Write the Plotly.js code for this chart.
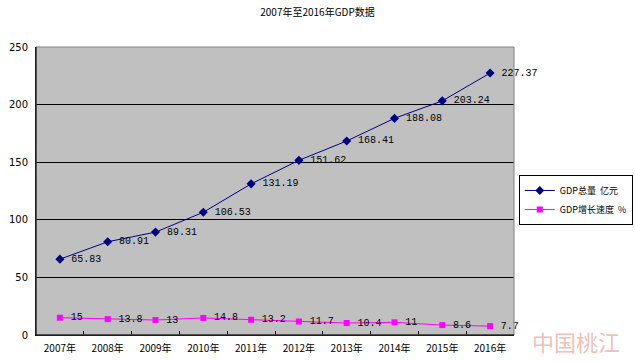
<!DOCTYPE html>
<html><head><meta charset="utf-8">
<script src="https://cdn.plot.ly/plotly-3.0.1.min.js"></script>
<style>body{margin:0;background:#fff}#c{width:635px;height:363px}</style>
</head><body><div id="c"></div>
<script>
const years = ["2007年","2008年","2009年","2010年","2011年","2012年","2013年","2014年","2015年","2016年"];
const gdp = [65.83, 80.91, 89.31, 106.53, 131.19, 151.62, 168.41, 188.08, 203.24, 227.37];
const growth = [15, 13.8, 13, 14.8, 13.2, 11.7, 10.4, 11, 8.6, 7.7];
const yTicks = [0, 50, 100, 150, 200, 250];
const F = '"Noto Sans CJK SC", "DejaVu Sans", sans-serif';
const M = '"Liberation Mono", "DejaVu Sans Mono", monospace';

const traces = [
  {x: years, y: gdp, name: 'GDP总量  亿元', type: 'scatter', mode: 'lines+markers+text',
   line: {color: '#000080', width: 1}, marker: {symbol: 'diamond', size: 7, color: '#000080'},
   text: gdp.map(v => ' ' + v.toFixed(2)), textposition: 'middle right',
   textfont: {family: M, size: 10, color: '#000000'}, cliponaxis: false},
  {x: years, y: growth, name: 'GDP增长速度  %', type: 'scatter', mode: 'lines+markers+text',
   line: {color: '#FF00FF', width: 1}, marker: {symbol: 'square', size: 6, color: '#FF00FF'},
   text: growth.map(v => ' ' + String(v)), textposition: 'middle right',
   textfont: {family: M, size: 10, color: '#000000'}, cliponaxis: false}
];

const layout = {
  width: 635, height: 363,
  margin: {l: 36, r: 121, t: 47, b: 28},
  paper_bgcolor: '#ffffff', plot_bgcolor: '#C0C0C0',
  font: {family: F, size: 10, color: '#000'},
  title: {text: '2007年至2016年GDP数据', font: {family: F, size: 10, color: '#000'}, x: 0.5, xanchor: 'center', y: 0.965, yanchor: 'middle'},
  xaxis: {type: 'category', categoryarray: years, range: [-0.5, 9.5], showgrid: false,
    showline: true, linecolor: '#000', linewidth: 1, mirror: false,
    ticks: 'inside', tickson: 'boundaries', ticklen: 4, tickcolor: '#000', tickwidth: 1,
    ticklabelstandoff: 4,
    tickfont: {family: F, size: 10, color: '#000'}, fixedrange: true},
  yaxis: {range: [0, 250], tickvals: yTicks, showgrid: true, gridcolor: '#000', gridwidth: 1,
    showline: true, linecolor: '#000', linewidth: 1, zeroline: false,
    ticks: '', ticklabelstandoff: 5, tickfont: {family: 'DejaVu Sans, sans-serif', size: 10, color: '#000'}, fixedrange: true},
  legend: {xref: 'container', yref: 'container', x: 0.817, xanchor: 'left', y: 0.518, yanchor: 'top',
    bgcolor: '#fff', bordercolor: '#000', borderwidth: 1,
    font: {family: F, size: 9, color: '#000'}, tracegroupgap: 0, itemwidth: 30},
  shapes: [
    {type: 'rect', xref: 'paper', yref: 'paper', x0: 0, x1: 1, y0: 0, y1: 1, line: {color: '#808080', width: 1}, fillcolor: 'rgba(0,0,0,0)'},
    {type: 'line', xref: 'paper', yref: 'paper', x0: 0, x1: 0, y0: 0, y1: 1, line: {color: '#000', width: 1}},
    {type: 'line', xref: 'paper', yref: 'paper', x0: 0, x1: 1, y0: 0, y1: 0, line: {color: '#000', width: 1}}
  ],
  annotations: [
    {text: '中国桃江', xref: 'paper', yref: 'paper', x: 1.13, y: -0.02, xanchor: 'center', yanchor: 'middle',
     showarrow: false, font: {family: F, size: 22, color: 'rgba(225,110,90,0.45)'}}
  ]
};
Plotly.newPlot('c', traces, layout, {displayModeBar: false, staticPlot: true});
</script></body></html>
